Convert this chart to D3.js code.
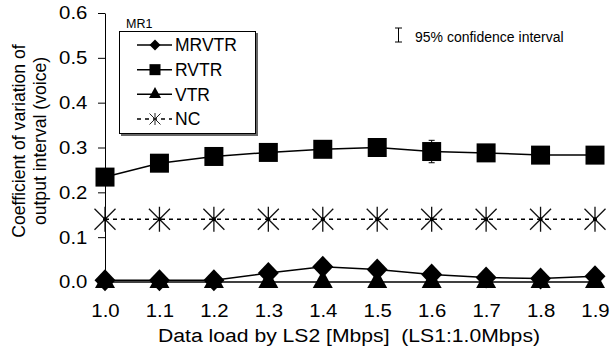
<!DOCTYPE html>
<meta charset="utf-8">
<style>
    body { margin: 0; background: #fff; }
    svg { font-family: "Liberation Sans", Arial, sans-serif; }
    text { fill: #000; }
    .axis path, .axis line { stroke: #000; stroke-width: 1; }
    path.series { fill: none; stroke: #000; stroke-width: 1.5; }
    path.series.nc { stroke-dasharray: 4, 4; stroke-width: 1.5; }
</style>
<body>
<script src="https://cdn.jsdelivr.net/npm/d3@7/dist/d3.min.js"></script>
<script>

    // data
    var loads = [1.0, 1.1, 1.2, 1.3, 1.4, 1.5, 1.6, 1.7, 1.8, 1.9];
    var mrvtr = [0.004, 0.004, 0.004, 0.02, 0.034, 0.028, 0.017, 0.01, 0.008, 0.013];
    var rvtr  = [0.234, 0.265, 0.280, 0.289, 0.296, 0.300, 0.291, 0.288, 0.283, 0.283];
    var rvtrErr = [0.01, 0.01, 0.01, 0.01, 0.01, 0.01, 0.025, 0.01, 0.01, 0.01];
    var vtr   = [0, 0, 0, 0, 0, 0, 0, 0, 0, 0];
    var nc    = [0.14, 0.14, 0.14, 0.14, 0.14, 0.14, 0.14, 0.14, 0.14, 0.14];
    var yTicks = [0, 0.1, 0.2, 0.3, 0.4, 0.5, 0.6];
    var seriesNames = ["MRVTR", "RVTR", "VTR", "NC"];

    var width = 612, height = 351;

    var x = d3.scaleLinear().domain([1.0, 1.9]).range([105, 595]);
    var y = d3.scaleLinear().domain([0, 0.6]).range([282, 13]);

    var svg = d3.select("body").append("svg")
            .attr("width", width)
            .attr("height", height);

    // y axis
    var yAxis = d3.axisLeft(y)
            .tickValues(yTicks)
            .tickFormat(d3.format(".1f"))
            .tickSize(7)
            .tickSizeOuter(0)
            .tickPadding(9);

    svg.append("g")
            .attr("class", "y axis")
            .attr("transform", "translate(" + x.range()[0] + ",0)")
            .call(yAxis)
            .call(function(g) {
                g.selectAll("text")
                    .attr("font-size", 18.5)
                    .attr("font-family", "Liberation Sans, Arial, sans-serif")
                    .attr("transform", "scale(1.1,1)");
            });

    // x axis: labels only, no line
    var xAxis = d3.axisBottom(x)
            .tickValues(loads)
            .tickFormat(d3.format(".1f"))
            .tickSize(0)
            .tickPadding(0);

    svg.append("g")
            .attr("class", "x axis")
            .attr("transform", "translate(0,304)")
            .call(xAxis)
            .call(function(g) {
                g.select(".domain").remove();
                g.selectAll("text")
                    .attr("dy", "0.71em")
                    .attr("font-size", 18.5)
                    .attr("font-family", "Liberation Sans, Arial, sans-serif")
                    .attr("transform", "scale(1.1,1)");
            });

    // axis titles
    svg.append("text")
            .attr("x", 349)
            .attr("y", 342)
            .attr("text-anchor", "middle")
            .attr("font-size", 18)
            .attr("xml:space", "preserve")
            .attr("textLength", 382)
            .attr("lengthAdjust", "spacingAndGlyphs")
            .text("Data load by LS2 [Mbps]  (LS1:1.0Mbps)");

    var yTitle = svg.append("text")
            .attr("transform", "translate(0,141) rotate(-90)")
            .attr("text-anchor", "middle")
            .attr("font-size", 17.6);
    yTitle.append("tspan").attr("x", 0).attr("y", 25).text("Coefficient of variation of");
    yTitle.append("tspan").attr("x", 0).attr("y", 46).text("output interval (voice)");

    // marker shapes
    function square(s) {
        return "M" + (-s / 2) + "," + (-s / 2) + "h" + s + "v" + s + "h" + (-s) + "Z";
    }
    function diamond(w, h) {
        return "M0," + (-h / 2) + "L" + (w / 2) + ",0L0," + (h / 2) + "L" + (-w / 2) + ",0Z";
    }
    function triangle(w, h) {
        // centroid on the point
        return "M0," + (-2 * h / 3) + "L" + (w / 2) + "," + (h / 3) + "L" + (-w / 2) + "," + (h / 3) + "Z";
    }
    function asterisk(w, h) {
        return "M0," + (-h / 2) + "V" + (h / 2) +
               "M" + (-w / 2) + "," + (-w / 2) + "L" + (w / 2) + "," + (w / 2) +
               "M" + (w / 2) + "," + (-w / 2) + "L" + (-w / 2) + "," + (w / 2);
    }

    var line = d3.line()
            .x(function(d, i) { return x(loads[i]); })
            .y(function(d) { return y(d); });

    var plot = svg.append("g").attr("class", "plot");

    // NC (dashed, asterisks)
    plot.append("path").attr("class", "series nc").attr("d", line(nc));
    plot.selectAll("g.nc-mark").data(nc).enter().append("g")
            .attr("transform", function(d, i) { return "translate(" + x(loads[i]) + "," + y(d) + ")"; })
            .each(function() {
                var g = d3.select(this);
                g.append("path").attr("d", asterisk(21, 25))
                    .attr("fill", "none").attr("stroke", "#111").attr("stroke-width", 1.3);
                g.append("circle").attr("r", 2).attr("fill", "#000");
            });

    // RVTR (squares) with error bars
    plot.append("path").attr("class", "series").attr("d", line(rvtr));
    plot.selectAll("path.rvtr-err").data(rvtr).enter().append("path")
            .attr("d", function(d, i) {
                var cx = x(loads[i]), t = y(d + rvtrErr[i]), b = y(d - rvtrErr[i]);
                return "M" + (cx - 3) + "," + t + "h6M" + cx + "," + t + "V" + b + "M" + (cx - 3) + "," + b + "h6";
            })
            .attr("stroke", "#000").attr("stroke-width", 1).attr("fill", "none");
    plot.selectAll("path.rvtr-mark").data(rvtr).enter().append("path")
            .attr("d", square(19))
            .attr("transform", function(d, i) { return "translate(" + x(loads[i]) + "," + y(d) + ")"; })
            .attr("fill", "#000");

    // VTR (triangles)
    plot.append("path").attr("class", "series").attr("d", line(vtr));
    plot.selectAll("path.vtr-mark").data(vtr).enter().append("path")
            .attr("d", triangle(20, 18))
            .attr("transform", function(d, i) { return "translate(" + x(loads[i]) + "," + y(d) + ")"; })
            .attr("fill", "#000");

    // MRVTR (diamonds)
    plot.append("path").attr("class", "series").attr("d", line(mrvtr));
    plot.selectAll("path.mrvtr-mark").data(mrvtr).enter().append("path")
            .attr("d", diamond(21, 22))
            .attr("transform", function(d, i) { return "translate(" + x(loads[i]) + "," + y(d) + ")"; })
            .attr("fill", "#000");

    // legend
    var legend = svg.append("g").attr("class", "legend");
    legend.append("text").attr("x", 126).attr("y", 28).attr("font-size", 12.5).text("MR1");
    legend.append("rect").attr("x", 121).attr("y", 33).attr("width", 137).attr("height", 103)
            .attr("fill", "#666");
    legend.append("rect").attr("x", 119.5).attr("y", 31.5).attr("width", 136).attr("height", 102)
            .attr("fill", "#fff").attr("stroke", "#000").attr("stroke-width", 1);

    var legendMarks = [diamond(11, 11), square(11), triangle(12, 11), asterisk(11, 12)];
    var legendY = d3.scalePoint().domain(seriesNames).range([45, 119]);

    seriesNames.forEach(function(name, i) {
        var ly = legendY(name);
        var g = legend.append("g").attr("transform", "translate(0," + ly + ")");
        g.append("path").attr("d", "M137,0H172")
            .attr("stroke", "#000").attr("stroke-width", 1.5)
            .attr("stroke-dasharray", name === "NC" ? "4,4" : null);
        if (name === "NC") {
            g.append("path").attr("d", legendMarks[i]).attr("transform", "translate(155,0)")
                .attr("fill", "none").attr("stroke", "#222").attr("stroke-width", 1);
        } else {
            g.append("path").attr("d", legendMarks[i]).attr("transform", "translate(155,0)").attr("fill", "#000");
        }
        g.append("text").attr("x", 175).attr("y", 0).attr("dy", "0.36em")
            .attr("font-size", 17.5).text(name);
    });

    // confidence interval key
    legend.append("path").attr("d", "M395,28h7M398.5,28V42M395,42h7")
            .attr("stroke", "#000").attr("stroke-width", 1).attr("fill", "none");
    legend.append("text").attr("x", 415).attr("y", 42).attr("font-size", 14).text("95% confidence interval");

</script>
